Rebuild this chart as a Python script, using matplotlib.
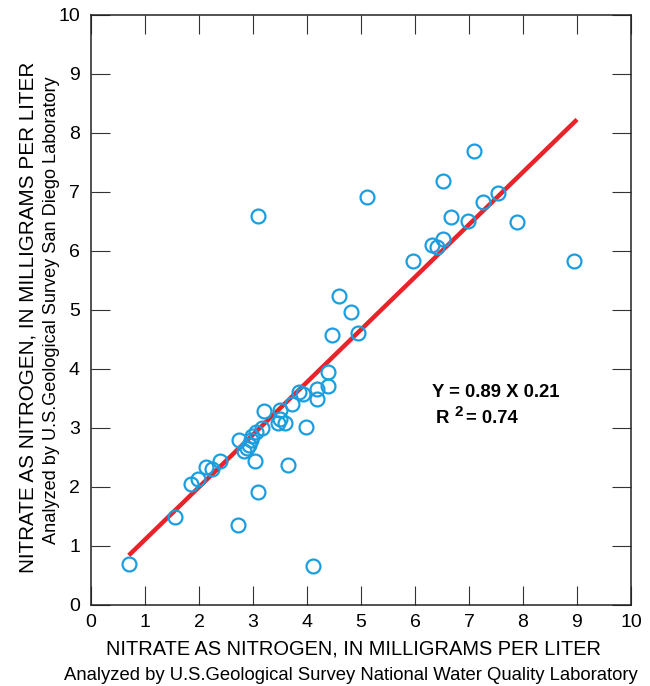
import matplotlib
matplotlib.use("Agg")
import matplotlib.pyplot as plt
import numpy as np

plt.rcParams['font.family'] = ['Liberation Sans', 'DejaVu Sans']

# Data
nwql = [0.71, 1.55, 2.73, 3.09, 4.12, 1.86, 1.98, 2.13, 2.24, 2.38, 3.03, 3.65,
        2.74, 2.83, 2.88, 2.93, 2.96, 2.98, 3.06, 3.17, 3.20, 3.47, 3.50, 3.59,
        3.50, 3.99, 3.73, 3.85, 3.92, 4.18, 4.19, 4.38, 4.39, 4.47, 4.94, 4.81,
        4.59, 5.97, 3.09, 5.11, 7.10, 6.52, 7.54, 7.26, 6.66, 6.98, 7.88, 6.51,
        6.31, 6.40, 8.94]
sdl = [0.69, 1.48, 1.35, 1.90, 0.66, 2.04, 2.13, 2.33, 2.29, 2.43, 2.43, 2.36,
       2.78, 2.61, 2.66, 2.70, 2.79, 2.86, 2.93, 2.99, 3.28, 3.08, 3.14, 3.08,
       3.30, 3.01, 3.40, 3.61, 3.56, 3.65, 3.48, 3.70, 3.94, 4.56, 4.61, 4.95,
       5.23, 5.82, 6.58, 6.91, 7.68, 7.18, 6.98, 6.83, 6.56, 6.50, 6.49, 6.19,
       6.09, 6.06, 5.82]
slope = 0.89
intercept = 0.21
fit_x = [0.7, 9.0]
ticks = list(range(0, 11))

fig = plt.figure(figsize=(6.5, 6.86), dpi=100)
ax = fig.add_axes([91/650, 1-604.5/686, 540/650, 590/686])

fx = np.array(fit_x)
ax.plot(fx, slope*fx + intercept, color='#e8232a', lw=3.2, solid_capstyle='butt', zorder=2)
ax.plot(nwql, sdl, 'o', mfc='none', mec='#1a9ee0', ms=10, mew=1.6, zorder=3)

ax.set_xlim(0, 10)
ax.set_ylim(0, 10)
ax.set_xticks(ticks)
ax.set_yticks(ticks)
ax.tick_params(direction='in', length=13.5, width=0.8, color='#333333',
               top=True, right=True, labelsize=14, pad=8)
ax.tick_params(axis='x', pad=7)
for s in ax.spines.values():
    s.set_linewidth(1.1)
    s.set_color('#222222')

ax.text(6.31, 3.60, 'Y = 0.89 X 0.21', fontsize=13.3, fontweight='bold', va='center', ha='left')
ax.text(6.39, 3.16, 'R', fontsize=13.3, fontweight='bold', va='center', ha='left')
ax.text(6.74, 3.27, '2', fontsize=11, fontweight='bold', va='center', ha='left')
ax.text(6.95, 3.16, '= 0.74', fontsize=13.3, fontweight='bold', va='center', ha='left')

fig.text(354/650, 1-649/686, 'NITRATE AS NITROGEN, IN MILLIGRAMS PER LITER',
         fontsize=14.4, ha='center', va='center')
fig.text(351/650, 1-675/686, 'Analyzed by U.S.Geological Survey National Water Quality Laboratory',
         fontsize=13.3, ha='center', va='center')
fig.text(28/650, 1-317/686, 'NITRATE AS NITROGEN, IN MILLIGRAMS PER LITER',
         fontsize=14.9, ha='center', va='center', rotation=90)
fig.text(52/650, 1-310/686, 'Analyzed by U.S.Geological Survey San Diego Laboratory',
         fontsize=13.1, ha='center', va='center', rotation=90)

fig.savefig('out.png', dpi=100)
